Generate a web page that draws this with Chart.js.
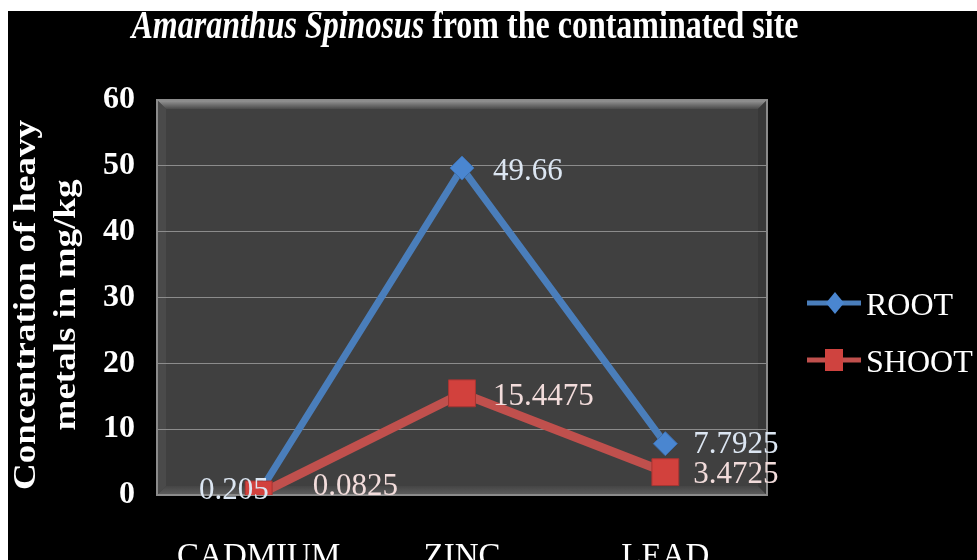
<!DOCTYPE html>
<html><head><meta charset="utf-8">
<script src="https://cdn.jsdelivr.net/npm/chart.js@4"></script>
<style>html,body{margin:0;padding:0;background:#000}#wrap{width:977px;height:560px}</style>
</head><body><div id="wrap"><canvas id="c" width="977" height="560"></canvas></div>
<script>
// data
const metals=["CADMIUM","ZINC","LEAD"];
const rootVals=[0.205,49.66,7.7925];
const shootVals=[0.0825,15.4475,3.4725];
const seriesNames=["ROOT","SHOOT"];
const yTicks=[0,10,20,30,40,50,60];
const titleItalic="Amaranthus Spinosus";
const titleRest=" from the contaminated site";
const yTitle=["Concentration of heavy","metals in mg/kg"];

const SERIF="'Liberation Serif','Times New Roman',serif";
const BLUE="#4a7ebb", RED="#c0504d";

// backdrop + bevelled plot area
const bgPlugin={id:"bg",beforeDraw(ch){
  const c=ch.ctx, a=ch.chartArea;
  c.save();
  c.fillStyle="#000"; c.fillRect(0,0,ch.width,ch.height);
  c.fillStyle="#fff"; c.fillRect(0,0,ch.width,11); c.fillRect(0,0,8,ch.height);
  c.fillStyle="#404040"; c.fillRect(a.left,a.top,a.right-a.left,a.bottom-a.top);
  const b=9;
  let g=c.createLinearGradient(0,a.top,0,a.top+b);
  g.addColorStop(0,"#9a9a9a"); g.addColorStop(1,"#4a4a4a");
  c.fillStyle=g; c.beginPath(); c.moveTo(a.left,a.top); c.lineTo(a.right,a.top); c.lineTo(a.right-b,a.top+b); c.lineTo(a.left+b,a.top+b); c.closePath(); c.fill();
  g=c.createLinearGradient(0,a.bottom-b,0,a.bottom);
  g.addColorStop(0,"#454545"); g.addColorStop(1,"#5e5e5e");
  c.fillStyle=g; c.beginPath(); c.moveTo(a.left,a.bottom); c.lineTo(a.right,a.bottom); c.lineTo(a.right-b,a.bottom-b); c.lineTo(a.left+b,a.bottom-b); c.closePath(); c.fill();
  c.fillStyle="#4a4a4a"; c.beginPath(); c.moveTo(a.left,a.top); c.lineTo(a.left+b,a.top+b); c.lineTo(a.left+b,a.bottom-b); c.lineTo(a.left,a.bottom); c.closePath(); c.fill();
  c.fillStyle="#383838"; c.beginPath(); c.moveTo(a.right,a.top); c.lineTo(a.right-b,a.top+b); c.lineTo(a.right-b,a.bottom-b); c.lineTo(a.right,a.bottom); c.closePath(); c.fill();
  c.strokeStyle="#8a8a8a"; c.lineWidth=2; c.strokeRect(a.left,a.top,a.right-a.left,a.bottom-a.top);
  c.restore();
}};

// value labels next to each point
const labelPlugin={id:"vlabels",afterDatasetsDraw(ch){
  const c=ch.ctx;
  c.save(); c.font="normal 31px "+SERIF; c.textBaseline="middle";
  ch.data.datasets.forEach((ds,i)=>{
    const meta=ch.getDatasetMeta(i);
    meta.data.forEach((pt,j)=>{
      const pos=ds.labelPos[j];
      c.fillStyle=ds.labelColor;
      c.textAlign=pos[2];
      c.fillText(String(ds.data[j]),pt.x+pos[0],pt.y+pos[1]);
    });
  });
  c.restore();
}};

// title, rotated axis title and legend
const textPlugin={id:"texts",afterDraw(ch){
  const c=ch.ctx;
  c.save(); c.fillStyle="#fff"; c.textBaseline="alphabetic";
  // chart title (condensed like the source)
  const sx=0.8, fs=40;
  c.font="italic bold "+fs+"px "+SERIF; const w1=c.measureText(titleItalic).width;
  c.font="bold "+fs+"px "+SERIF; const w2=c.measureText(titleRest).width;
  const x0=465-(w1+w2)*sx/2;
  c.save(); c.translate(x0,38); c.scale(sx,1);
  c.font="italic bold "+fs+"px "+SERIF; c.textAlign="left"; c.fillText(titleItalic,0,0);
  c.font="bold "+fs+"px "+SERIF; c.fillText(titleRest,w1,0);
  c.restore();
  // y axis title
  c.font="bold 37px "+SERIF; c.textAlign="center";
  [35,75].forEach((bx,k)=>{
    c.save(); c.translate(bx,305); c.scale(0.85,1); c.rotate(-Math.PI/2);
    c.fillText(yTitle[k],0,0); c.restore();
  });
  // legend
  const rows=[{y:303,col:BLUE,shape:"d"},{y:360,col:RED,shape:"s"}];
  rows.forEach((r,k)=>{
    c.strokeStyle=r.col; c.lineWidth=5; c.beginPath(); c.moveTo(807,r.y); c.lineTo(861,r.y); c.stroke();
    c.fillStyle=r.shape==="d"?"#4a86d0":"#cf433f";
    c.beginPath();
    if(r.shape==="d"){c.moveTo(835,r.y-11);c.lineTo(844,r.y);c.lineTo(835,r.y+11);c.lineTo(826,r.y);c.closePath();}
    else c.rect(825,r.y-11,18,22);
    c.fill();
    c.fillStyle="#fff"; c.font="normal 32px "+SERIF; c.textAlign="left";
    c.fillText(seriesNames[k],866,r.y+12);
  });
  c.restore();
}};

new Chart(document.getElementById("c"),{
  type:"line",
  data:{labels:metals,datasets:[
    {label:seriesNames[0],data:rootVals,order:1,borderColor:BLUE,borderWidth:7,pointStyle:"rectRot",pointRadius:12,
     pointBackgroundColor:"#4a86d0",pointBorderColor:"#3d70b0",pointBorderWidth:1,
     labelColor:"#dce6f2",labelPos:[[10,-3,"right"],[31,4,"left"],[28,1,"left"]]},
    {label:seriesNames[1],data:shootVals,order:0,borderColor:RED,borderWidth:9,pointStyle:"rect",pointRadius:19,
     pointBackgroundColor:"#d2413d",pointBorderColor:"#a83532",pointBorderWidth:1,
     labelColor:"#f2dcdb",labelPos:[[54,-8,"left"],[31,4,"left"],[28,3,"left"]]}
  ]},
  options:{
    responsive:false,animation:false,
    layout:{padding:{top:100,right:210,left:0,bottom:0}},
    plugins:{legend:{display:false},tooltip:{enabled:false}},
    scales:{
      x:{offset:true,grid:{display:false},border:{display:false},
         ticks:{color:"#fff",font:{family:SERIF,size:33},padding:35},
         afterFit:s=>{s.height=65;}},
      y:{min:0,max:60,grid:{color:"#8c8c8c",lineWidth:1,drawTicks:false},border:{display:false},
         afterBuildTicks:s=>{s.ticks=yTicks.map(v=>({value:v}));},
         ticks:{color:"#fff",font:{family:SERIF,size:32,weight:"bold"},padding:22},
         afterFit:s=>{s.width=157;}}
    }
  },
  plugins:[bgPlugin,labelPlugin,textPlugin]
});
</script></body></html>
